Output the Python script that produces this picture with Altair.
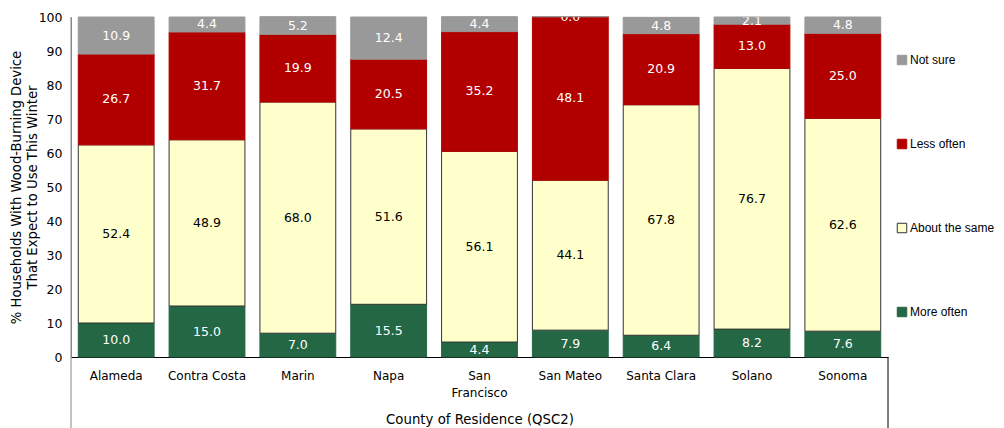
import altair as alt
import pandas as pd

counties = ["Alameda", "Contra Costa", "Marin", "Napa", "San Francisco",
            "San Mateo", "Santa Clara", "Solano", "Sonoma"]
more_often = [10.0, 15.0, 7.0, 15.5, 4.4, 7.9, 6.4, 8.2, 7.6]
about_same = [52.4, 48.9, 68.0, 51.6, 56.1, 44.1, 67.8, 76.7, 62.6]
less_often = [26.7, 31.7, 19.9, 20.5, 35.2, 48.1, 20.9, 13.0, 25.0]
not_sure = [10.9, 4.4, 5.2, 12.4, 4.4, 0.0, 4.8, 2.1, 4.8]

cats = ["More often", "About the same", "Less often", "Not sure"]
legend_order = ["Not sure", "Less often", "About the same", "More often"]
fill_colors = ["#999999", "#B20000", "#FFFFCC", "#246745"]
stroke_colors = ["#999999", "#B20000", "#333333", "#246745"]

rows = []
for i, c in enumerate(counties):
    for k, (cat, vals) in enumerate(zip(cats, [more_often, about_same, less_often, not_sure])):
        rows.append({"county": c, "cat": cat, "order": k, "value": vals[i]})
df = pd.DataFrame(rows)

FONT = "DejaVu Sans"

x_axis = alt.Axis(title="County of Residence (QSC2)", labelAngle=0,
                  ticks=False, domainColor="#000000", domainWidth=1,
                  labelFontSize=12, labelFont=FONT, labelColor="#000000",
                  labelPadding=13, titleFontSize=13.3, titleFont=FONT,
                  titleFontWeight="normal", titleColor="#000000",
                  titlePadding=14, labelLineHeight=17,
                  labelExpr="datum.label == 'San Francisco' ? ['San', 'Francisco'] : datum.label")
x_scale = alt.Scale(paddingInner=0.165, paddingOuter=0.08)

y_axis = alt.Axis(title=["% Households With Wood-Burning Device",
                         "That Expect to Use This Winter"],
                  values=list(range(0, 101, 10)), ticks=False, grid=False,
                  labelOverlap=False,
                  domainColor="#888888", labelFontSize=12.5, labelFont=FONT,
                  labelColor="#000000", labelPadding=9,
                  titleFontSize=13.2, titleFont=FONT, titleFontWeight="normal",
                  titleColor="#000000", titlePadding=-1, titleLineHeight=16)
yscale = alt.Scale(domain=[0, 100], nice=False)

base = alt.Chart(df).transform_stack(
    stack="value", groupby=["county"], as_=["y0", "y1"],
    sort=[alt.SortField("order", order="ascending")]
).transform_calculate(mid="(datum.y0 + datum.y1) / 2",
                      lab="format(datum.value, '.1f')")

leg = alt.Legend(title=None, orient="none", legendX=825, legendY=37,
                 padding=0, rowPadding=70, symbolType="square", symbolSize=90,
                 symbolStrokeWidth=1, labelFontSize=12, labelFont="Liberation Sans",
                 labelColor="#000000", labelOffset=2)

bars = base.mark_bar(strokeWidth=1).encode(
    x=alt.X("county:N", sort=counties, scale=x_scale, axis=x_axis),
    y=alt.Y("y0:Q", scale=yscale, axis=y_axis),
    y2="y1:Q",
    fill=alt.Fill("cat:N", scale=alt.Scale(domain=legend_order, range=fill_colors), legend=leg),
    stroke=alt.Stroke("cat:N", scale=alt.Scale(domain=legend_order, range=stroke_colors), legend=leg),
)

labels = base.mark_text(fontSize=12.5, font=FONT, clip=True, baseline="middle").encode(
    x=alt.X("county:N", sort=counties, scale=x_scale, axis=x_axis),
    y=alt.Y("mid:Q", scale=yscale, axis=y_axis),
    text="lab:N",
    color=alt.condition(alt.datum.cat == "About the same", alt.value("#000000"), alt.value("#FFFFFF")),
)

left_line = alt.Chart(pd.DataFrame({"a": [0]})).mark_rule(color="#888888", strokeWidth=1).encode(
    x=alt.value(0), y=alt.value(0), y2=alt.value(420))
right_line = alt.Chart(pd.DataFrame({"a": [0]})).mark_rule(color="#000000", strokeWidth=1).encode(
    x=alt.value(817), y=alt.value(340), y2=alt.value(420))

chart = alt.layer(bars, labels, left_line, right_line).properties(
    width=817, height=340,
    autosize=alt.AutoSizeParams(type="none"),
    padding={"left": 63, "top": 9, "right": 108, "bottom": 71},
).configure_view(stroke=None)

chart.save("out.html", embed_options={"renderer": "svg", "actions": False})
